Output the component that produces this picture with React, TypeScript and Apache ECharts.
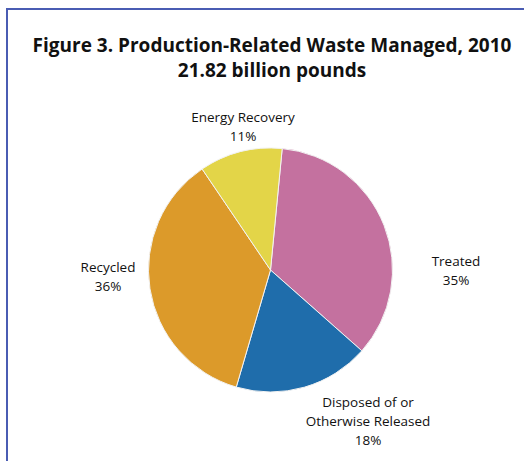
import React, { useEffect, useRef } from "react";
import * as echarts from "echarts";

const titleLines = ["Figure 3. Production-Related Waste Managed, 2010", "21.82 billion pounds"];
const categories = ["Treated", "Disposed of or\nOtherwise Released", "Recycled", "Energy Recovery"];
const values = [35, 18, 36, 11];
const colors = ["#c4719f", "#1f6dab", "#dc9a2a", "#e3d548"];
// label anchor positions (pixels), by slice index
const labelPos = [
  [456, 270],
  [368, 421],
  [108, 276],
  [243, 126],
];

export default function App() {
  const ref = useRef<HTMLDivElement>(null);
  useEffect(() => {
    document.body.style.margin = "0";
    const chart = echarts.init(ref.current!, null, { renderer: "svg" });
    chart.setOption({
      animation: false,
      backgroundColor: "#ffffff",
      title: {
        text: titleLines.join("\n"),
        left: 267,
        textAlign: "center",
        top: 27,
        textStyle: {
          fontFamily: "Open Sans",
          fontWeight: "bold",
          fontSize: 19,
          lineHeight: 25,
          color: "#111",
        },
      },
      graphic: [
        {
          type: "rect",
          shape: { x: 7, y: 9, width: 700, height: 700 },
          style: { fill: "none", stroke: "#4a5cb3", lineWidth: 2 },
          silent: true,
        },
      ],
      series: [
        {
          type: "pie",
          center: [270.5, 270],
          radius: 122,
          startAngle: 84.5,
          clockwise: true,
          data: categories.map((name, i) => ({
            name,
            value: values[i],
            itemStyle: { color: colors[i] },
          })),
          itemStyle: { borderColor: "#f2f2f2", borderWidth: 1 },
          label: {
            show: true,
            position: "outside",
            formatter: (p: any) => `${p.name}\n${p.value}%`,
            fontFamily: "Open Sans",
            fontSize: 13.5,
            lineHeight: 19,
            color: "#111",
            align: "center",
          },
          labelLine: { show: false },
          labelLayout: (p: any) => ({
            x: labelPos[p.dataIndex][0],
            y: labelPos[p.dataIndex][1],
            align: "center",
            verticalAlign: "middle",
          }),
        },
      ],
    });
    return () => chart.dispose();
  }, []);
  return <div ref={ref} style={{ width: 524, height: 461 }} />;
}
